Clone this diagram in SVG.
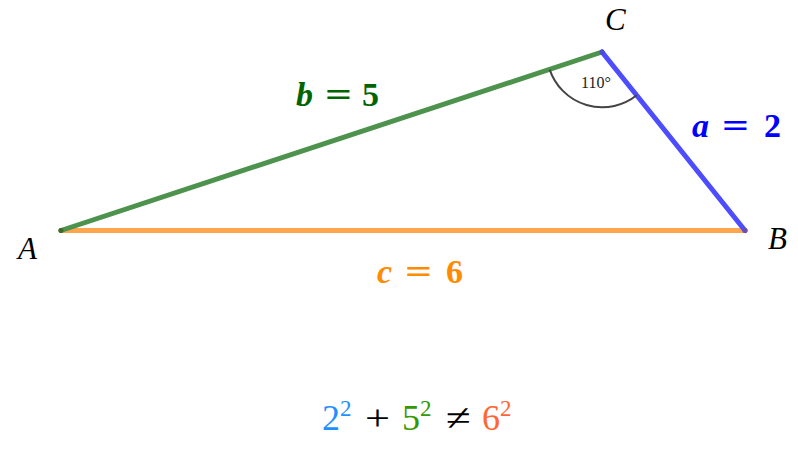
<svg xmlns="http://www.w3.org/2000/svg" width="798" height="457" viewBox="0 0 798 457">
<style>
.edge{stroke-width:5;stroke-linecap:round;fill:none}
.pt{font-family:"Liberation Serif","DejaVu Serif",serif;font-style:italic;font-size:31px;fill:#000}
.lbl{font-family:"Liberation Serif","DejaVu Serif",serif;font-weight:bold;font-size:34px}
.v{font-style:italic}
.eq{font-family:"Liberation Serif","DejaVu Serif",serif;font-size:36px}
.sup{font-size:23px}
</style>
<rect width="798" height="457" fill="#fff"/>
<g id="connectors">
<line class="edge" x1="61" y1="230.5" x2="745" y2="230.5" stroke="#ffa64d"/>
<line class="edge" x1="61" y1="230.5" x2="602" y2="52" stroke="#4d924d"/>
<line class="edge" x1="602" y1="52" x2="745" y2="230.5" stroke="#4d4dff"/>
<path d="M 549.7 69.6 A 55.5 55.5 0 0 0 636.7 95.3" fill="none" stroke="#444" stroke-width="2"/>
</g>
<g id="node-A"><circle cx="61" cy="230.5" r="2.5" fill="#3d6b2a"/><text class="pt" x="18" y="259">A</text></g>
<g id="node-B"><circle cx="745" cy="230.5" r="2.5" fill="#6b4db0"/><text class="pt" x="768" y="249">B</text></g>
<g id="node-C"><circle cx="602" cy="52" r="2.5" fill="#4d4dd0"/><text class="pt" x="605" y="30">C</text></g>
<g id="angle-label"><text x="596" y="88" text-anchor="middle" font-family="Liberation Serif, DejaVu Serif, serif" font-size="16" fill="#222">110°</text></g>
<g id="label-b" class="lbl" fill="#006400">
<text class="v" x="296" y="106">b</text>
<text x="325" y="106" textLength="27" lengthAdjust="spacingAndGlyphs">=</text>
<text x="362" y="106">5</text>
</g>
<g id="label-a" class="lbl" fill="#0000ff">
<text class="v" x="692" y="137">a</text>
<text x="722" y="137" textLength="27" lengthAdjust="spacingAndGlyphs">=</text>
<text x="764" y="137">2</text>
</g>
<g id="label-c" class="lbl" fill="#ff8c00">
<text class="v" x="377" y="283">c</text>
<text x="405" y="283" textLength="27" lengthAdjust="spacingAndGlyphs">=</text>
<text x="446" y="283">6</text>
</g>
<g id="equation" class="eq">
<text x="322" y="430" fill="#1e90ff">2</text><text class="sup" x="340" y="416" fill="#1e90ff">2</text>
<text x="365" y="430" fill="#000" textLength="25" lengthAdjust="spacingAndGlyphs">+</text>
<text x="402" y="430" fill="#339900">5</text><text class="sup" x="420" y="416" fill="#339900">2</text>
<text x="446" y="430" fill="#000" textLength="25" lengthAdjust="spacingAndGlyphs">≠</text>
<text x="482" y="430" fill="#ff6633">6</text><text class="sup" x="500" y="416" fill="#ff6633">2</text>
</g>
</svg>
